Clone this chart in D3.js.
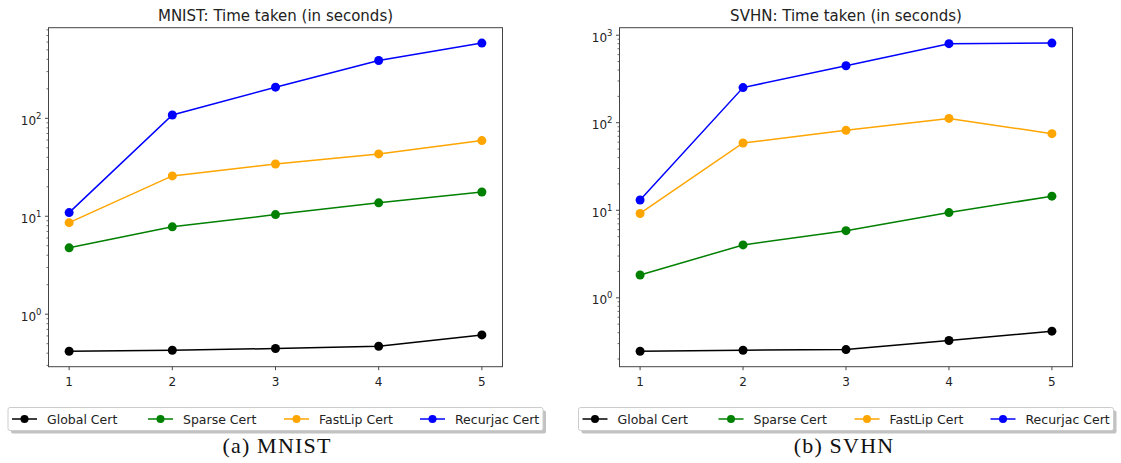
<html>
<head>
<script src="https://d3js.org/d3.v7.min.js"></script>
<style>
  body { margin: 0; background: #fff; }
  text { font-family: "DejaVu Sans", sans-serif; fill: #222; }
  .caption { font-family: "Liberation Serif", "DejaVu Serif", serif; fill: #111; }
</style>
</head>
<body>
<svg width="1121" height="463"></svg>
<script>
// data
var xValues = [1, 2, 3, 4, 5];
var seriesNames = ["Global Cert", "Sparse Cert", "FastLip Cert", "Recurjac Cert"];

var mnistGlobal   = [0.418, 0.428, 0.446, 0.471, 0.614];
var mnistSparse   = [4.76, 7.8, 10.4, 13.7, 17.7];
var mnistFastLip  = [8.6, 25.8, 34.2, 43.3, 59.2];
var mnistRecurjac = [10.9, 108, 208, 389, 586];

var svhnGlobal   = [0.245, 0.252, 0.256, 0.325, 0.416];
var svhnSparse   = [1.82, 4.02, 5.85, 9.41, 14.5];
var svhnFastLip  = [9.2, 58.7, 81.9, 112, 75];
var svhnRecurjac = [13.1, 252, 448, 800, 812];

var colors = ["#000000", "#008000", "#ffa500", "#0000ff"];

var svg = d3.select("svg");

function drawPanel(p) {
    var all = d3.merge(p.series);
    var lo = Math.log10(d3.min(all)), hi = Math.log10(d3.max(all));
    var pad = (hi - lo) * 0.05;

    var x = d3.scaleLinear().domain([0.8, 5.2]).range([p.left, p.right]);
    var y = d3.scaleLog().domain([Math.pow(10, lo - pad), Math.pow(10, hi + pad)])
        .range([p.bottom, p.top]);

    var g = svg.append("g");

    // minor + major log ticks
    var d0 = Math.floor(lo - pad), d1 = Math.ceil(hi + pad);
    for (var k = d0; k <= d1; k++) {
        for (var m = 1; m < 10; m++) {
            var v = m * Math.pow(10, k);
            if (v < y.domain()[0] || v > y.domain()[1]) continue;
            var len = m == 1 ? 3.5 : 2;
            g.append("line")
                .attr("x1", p.left - len).attr("x2", p.left)
                .attr("y1", y(v)).attr("y2", y(v))
                .attr("stroke", "#333").attr("stroke-width", m == 1 ? 0.9 : 0.7);
            if (m == 1) {
                var t = g.append("text")
                    .attr("x", p.left - 7).attr("y", y(v) + 6.5)
                    .attr("text-anchor", "end")
                    .style("font-size", "12px");
                t.append("tspan").text("10");
                t.append("tspan").attr("dy", -6).style("font-size", "8.5px").text(k);
            }
        }
    }

    // x ticks
    xValues.forEach(function(v) {
        g.append("line")
            .attr("x1", x(v)).attr("x2", x(v))
            .attr("y1", p.bottom).attr("y2", p.bottom + 3.5)
            .attr("stroke", "#333").attr("stroke-width", 0.9);
        g.append("text")
            .attr("x", x(v)).attr("y", p.bottom + 19.5)
            .attr("text-anchor", "middle")
            .style("font-size", "12px")
            .text(v);
    });

    var line = d3.line()
        .x(function(d, i) { return x(xValues[i]); })
        .y(function(d) { return y(d); });

    p.series.forEach(function(s, si) {
        g.append("path")
            .datum(s)
            .attr("d", line)
            .attr("fill", "none")
            .attr("stroke", colors[si])
            .attr("stroke-width", 1.5);
        g.selectAll(null).data(s).enter().append("circle")
            .attr("cx", function(d, i) { return x(xValues[i]); })
            .attr("cy", function(d) { return y(d); })
            .attr("r", 4.5)
            .attr("fill", colors[si]);
    });

    // frame
    g.append("rect")
        .attr("x", p.left).attr("y", p.top)
        .attr("width", p.right - p.left).attr("height", p.bottom - p.top)
        .attr("fill", "none").attr("stroke", "#444").attr("stroke-width", 1);

    g.append("text")
        .attr("x", (p.left + p.right) / 2).attr("y", p.top - 7)
        .attr("text-anchor", "middle")
        .style("font-size", "15px")
        .text(p.title);

    // legend
    var lg = svg.append("g");
    lg.append("rect")
        .attr("x", p.legX + 3).attr("y", 407.5 + 3)
        .attr("width", p.legW).attr("height", 23)
        .attr("rx", 2)
        .attr("fill", "#999").attr("opacity", 0.6);
    lg.append("rect")
        .attr("x", p.legX).attr("y", 407.5)
        .attr("width", p.legW).attr("height", 23)
        .attr("rx", 2)
        .attr("fill", "#fff").attr("stroke", "#ccc");
    seriesNames.forEach(function(name, i) {
        var lx = p.legX + 4 + i * 136;
        lg.append("line")
            .attr("x1", lx).attr("x2", lx + 25)
            .attr("y1", 419).attr("y2", 419)
            .attr("stroke", colors[i]).attr("stroke-width", 1.5);
        lg.append("circle")
            .attr("cx", lx + 12.5).attr("cy", 419).attr("r", 4)
            .attr("fill", colors[i]);
        lg.append("text")
            .attr("x", lx + 35).attr("y", 423.5)
            .style("font-size", "12.5px")
            .text(name);
    });

    svg.append("text")
        .attr("class", "caption")
        .attr("x", p.capX).attr("y", 453)
        .attr("text-anchor", "middle")
        .style("font-size", "22px")
        .style("letter-spacing", "1.2px")
        .text(p.caption);
}

drawPanel({
    title: "MNIST: Time taken (in seconds)",
    caption: "(a) MNIST",
    series: [mnistGlobal, mnistSparse, mnistFastLip, mnistRecurjac],
    left: 48.5, right: 502.5, top: 27.7, bottom: 366.7,
    legX: 8, legW: 535, capX: 277
});

drawPanel({
    title: "SVHN: Time taken (in seconds)",
    caption: "(b) SVHN",
    series: [svhnGlobal, svhnSparse, svhnFastLip, svhnRecurjac],
    left: 619.5, right: 1072.5, top: 27.7, bottom: 366.7,
    legX: 578.5, legW: 535, capX: 844
});
</script>
</body>
</html>
